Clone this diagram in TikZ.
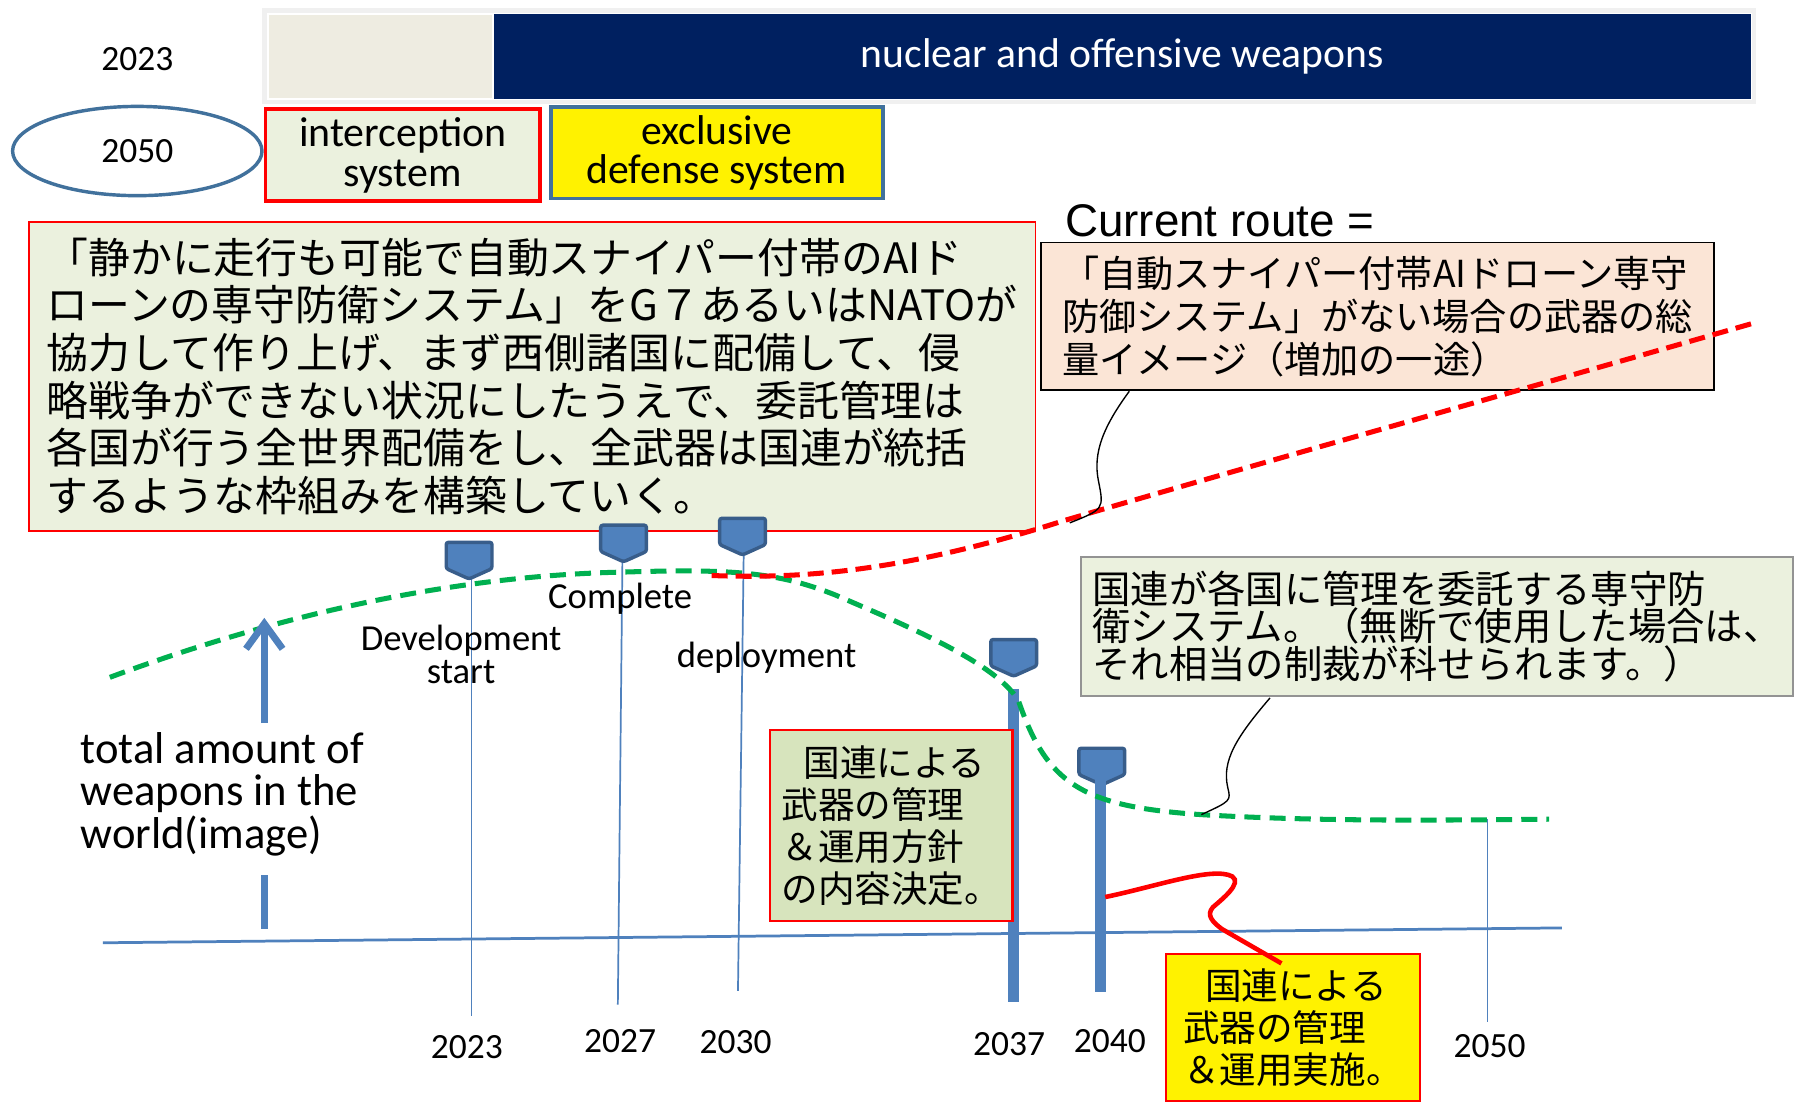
\documentclass[tikz,border=0pt]{standalone}
\usepackage{fontspec}
\setmainfont{Carlito}
\newfontfamily\jp{Noto Sans CJK JP}
\newfontfamily\arial{Liberation Sans}
\usetikzlibrary{arrows.meta,shapes.geometric}

\definecolor{navy}{HTML}{002060}
\definecolor{paper}{HTML}{EEECE1}
\definecolor{palegreen}{HTML}{EBF1DE}
\definecolor{olive}{HTML}{D7E4BD}
\definecolor{peach}{HTML}{FBE5D6}
\definecolor{steel}{HTML}{4F81BD}
\definecolor{steeldark}{HTML}{385D8A}
\definecolor{ringblue}{HTML}{41719C}
\definecolor{dashgreen}{HTML}{00B050}

\begin{document}
\begin{tikzpicture}[x=0.5pt, y=-0.5pt,
  every node/.style={inner sep=0pt, align=center},
  yearlbl/.style={font=\fontsize{15.5}{17}\selectfont},
  stagelbl/.style={font=\fontsize{16}{14.5}\selectfont},
  headlbl/.style={font=\fontsize{18.3}{17.5}\selectfont, line width=1.6pt},
  jpbox/.style={draw=red, line width=1pt, align=left, font=\jp\fontsize{16}{18.3}\selectfont},
  thinline/.style={steel, line width=0.75pt},
  yearbar/.style={steel, line width=5pt},
  callout/.style={black, line width=0.6pt},
  shieldmark/.pic={\draw[fill=steel, draw=steeldark, line width=1.5pt, rounded corners=1pt]
    (-20,-16) -- (20,-16) -- (20,7) -- (0,16) -- (-20,7) -- cycle;}
]
\clip (0,0) rectangle (1568,964);
\fill[white] (0,0) rectangle (1568,964);

% top bar
\draw[gray!12, line width=2pt, fill=white] (231,9) rectangle (1533,89);
\fill[paper] (235,13) rectangle (430,86);
\node[fill=navy, text=white, minimum width=549pt, minimum height=37pt, font=\fontsize{18.2}{20}\selectfont]
  (nuclear) at (981,49.5) {nuclear and offensive weapons};
\node[yearlbl] (now) at (120,52) {2023};

% 2050 row
\node[ellipse, draw=ringblue, line width=1.5pt, minimum width=109pt, minimum height=39pt, yearlbl]
  (goal) at (120,132) {2050};
\node[headlbl, draw=red, fill=palegreen, minimum width=120pt, minimum height=40pt]
  (intercept) at (352,135.5) {interception\\system};
\node[headlbl, draw=ringblue, fill=yellow, minimum width=145pt, minimum height=40pt,
  font=\fontsize{18.2}{17}\selectfont] (exclusive) at (626.5,133.5) {exclusive\\defense system};

% text boxes
\node[draw=red, line width=0.8pt, fill=palegreen, minimum width=440pt, minimum height=135pt,
  align=left, font=\jp\fontsize{18.3}{20.85}\selectfont] (plan) at (465,329)
  {「静かに走行も可能で自動スナイパー付帯のAIド\\
   ローンの専守防衛システム」をG７あるいはNATOが\\
   協力して作り上げ、まず西側諸国に配備して、侵\\
   略戦争ができない状況にしたうえで、委託管理は\\
   各国が行う全世界配備をし、全武器は国連が統括\\
   するような枠組みを構築していく。};

\node[font=\arial\fontsize{20}{22}\selectfont] (route) at (1066,193) {Current route =};
\node[draw=black, line width=0.75pt, fill=peach, minimum width=294pt, minimum height=64.5pt,
  align=left, font=\jp\fontsize{16.25}{18.75}\selectfont] (peachbox) at (1204,276.5)
  {「自動スナイパー付帯AIドローン専守\\
   防御システム」がない場合の武器の総\\
   量イメージ（増加の一途）};

\node[draw=gray!85, line width=1pt, fill=palegreen, minimum width=311pt, minimum height=60.5pt,
  align=left, font=\jp\fontsize{16.75}{16.5}\selectfont] (unbox) at (1256,547.5)
  {国連が各国に管理を委託する専守防\\
   衛システム。（無断で使用した場合は、\\
   それ相当の制裁が科せられます。）};

% axis and year lines
\coordinate (axl) at (90,824);
\coordinate (axr) at (1365,811);
\draw[steel, line width=1.2pt] (axl) -- (axr);

\coordinate (t23) at (412,505);  \coordinate (b23) at (412,888);
\coordinate (t27) at (544,490);  \coordinate (b27) at (540,878);
\coordinate (t30) at (650,485);  \coordinate (b30) at (645,866);
\coordinate (t50) at (1300,716); \coordinate (b50) at (1300,893);
\draw[thinline] (t23) -- (b23);
\draw[thinline] (t27) -- (b27);
\draw[thinline] (t30) -- (b30);
\draw[thinline] (t50) -- (b50);

\pic at (410,490) {shieldmark};
\pic at (545,475) {shieldmark};
\pic at (649,469) {shieldmark};
\pic at (886,575) {shieldmark};
\pic at (963,670) {shieldmark};

\coordinate (t37) at (886,602); \coordinate (b37) at (886,876);
\coordinate (t40) at (962,673); \coordinate (b40) at (962,867);
\draw[yearbar] (t37) -- (b37);
\draw[yearbar] (t40) -- (b40);

\node[yearlbl] (y23) at (408,915) {2023};
\node[yearlbl] (y27) at (542,910) {2027};
\node[yearlbl] (y30) at (643,911) {2030};
\node[yearlbl] (y37) at (882,913) {2037};
\node[yearlbl] (y40) at (970,910) {2040};
\node[yearlbl] (y50) at (1302,914) {2050};

\node[stagelbl] (devstart) at (403,572) {Development\\start};
\node[stagelbl] (complete) at (542,523) {Complete};
\node[stagelbl] (deploy) at (670,575) {deployment};

% curves
\draw[dashgreen, line width=2.2pt, dash pattern=on 7pt off 4pt]
  (96,592) .. controls (250,535) and (400,503) .. (545,500)
  .. controls (640,497) and (680,500) .. (730,520)
  .. controls (800,550) and (870,580) .. (890,612)
  .. controls (915,685) and (945,705) .. (1050,712)
  .. controls (1150,718) and (1250,717) .. (1354,716);
\draw[red, line width=2.2pt, dash pattern=on 7pt off 3.5pt]
  (622,503) .. controls (700,506) and (790,500) .. (930,455)
  .. controls (1100,405) and (1350,335) .. (1534,282);

% left axis label and arrow
\coordinate (armlow) at (231,632);
\coordinate (armtop) at (231,540);
\coordinate (dashtop) at (231,765);
\coordinate (dashbot) at (231,812);
\draw[steel, line width=3pt, -{Straight Barb[length=11pt, width=16pt]}] (armlow) -- (armtop);
\draw[steel, line width=3pt] (dashtop) -- (dashbot);
\node[anchor=west, align=left, font=\fontsize{19.5}{18.5}\selectfont] (total) at (70,694)
  {total amount of\\weapons in the\\world(image)};

% decision boxes
\node[jpbox, fill=olive, minimum width=106pt, minimum height=83.5pt] (decide) at (779,721.5)
  {\hspace{0.6em}国連による\\武器の管理\\＆運用方針\\の内容決定。};
\node[jpbox, fill=yellow, minimum width=111pt, minimum height=64pt] (execute) at (1130,898)
  {\hspace{0.6em}国連による\\武器の管理\\＆運用実施。};

% callouts
\coordinate (pk) at (987,342);
\coordinate (redpt) at (935,457);
\draw[callout] (pk) .. controls (965,372) and (955,395) .. (960,420)
  .. controls (965,445) .. (redpt);
\coordinate (uk) at (1110,610);
\coordinate (greenpt) at (1050,712);
\draw[callout] (uk) .. controls (1080,645) and (1068,665) .. (1073,688)
  .. controls (1076,700) .. (greenpt);
\coordinate (barpt) at (966,784);
\coordinate (yelpt) at (1120,842);
\draw[red, line width=2pt] (barpt) .. controls (1010,775) and (1060,757) .. (1077,766)
  .. controls (1086,772) and (1068,786) .. (1060,793)
  .. controls (1054,800) and (1060,806) .. (1068,812) -- (yelpt);
\end{tikzpicture}
\end{document}
